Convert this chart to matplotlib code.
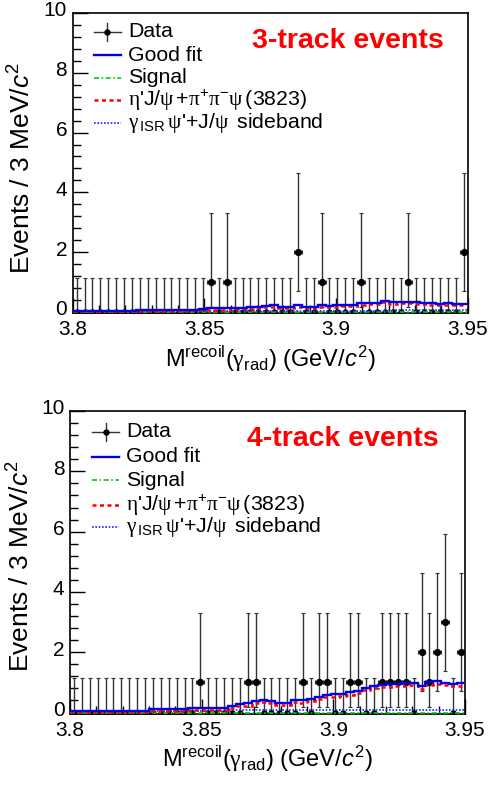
import numpy as np
import matplotlib
matplotlib.use("Agg")
import matplotlib.pyplot as plt
from matplotlib.lines import Line2D
from matplotlib.ticker import MultipleLocator, FixedLocator
from matplotlib.transforms import ScaledTranslation

plt.rcParams['font.family'] = ['Liberation Sans', 'DejaVu Sans']
plt.rcParams['mathtext.fontset'] = 'custom'
plt.rcParams['mathtext.rm'] = 'Liberation Sans'
plt.rcParams['mathtext.it'] = 'Liberation Sans:italic'
plt.rcParams['mathtext.sf'] = 'Liberation Serif'

# ---- binning: 3 MeV bins from 3.80 to 3.95 GeV ----
x_lo, x_hi, n_bins = 3.80, 3.95, 50

# ---- observed counts per bin ----
counts_3trk = [0, 0, 0, 0, 0, 0, 0, 0, 0, 0,
               0, 0, 0, 0, 0, 0, 0, 1, 0, 1,
               0, 0, 0, 0, 0, 0, 0, 0, 2, 0,
               0, 1, 0, 0, 0, 0, 1, 0, 0, 0,
               0, 0, 1, 0, 0, 0, 0, 0, 0, 2]
counts_4trk = [0, 0, 0, 0, 0, 0, 0, 0, 0, 0,
               0, 0, 0, 0, 0, 0, 1, 0, 0, 0,
               0, 0, 1, 1, 0, 0, 0, 0, 0, 1,
               0, 1, 1, 0, 0, 1, 1, 0, 0, 1,
               1, 1, 1, 0, 2, 1, 2, 3, 0, 2]

# ---- fit components (events per bin) ----
fit_3trk = [0.04, 0.04, 0.04, 0.04, 0.04, 0.04, 0.04, 0.04, 0.05, 0.05,
            0.06, 0.06, 0.06, 0.07, 0.07, 0.08, 0.09, 0.12, 0.12, 0.12,
            0.13, 0.14, 0.15, 0.16, 0.21, 0.22, 0.18, 0.18, 0.22, 0.17,
            0.17, 0.22, 0.21, 0.22, 0.24, 0.25, 0.29, 0.30, 0.30, 0.37,
            0.32, 0.33, 0.33, 0.32, 0.30, 0.29, 0.28, 0.29, 0.28, 0.27]
bkg_3trk = [0.01, 0.01, 0.01, 0.01, 0.01, 0.01, 0.01, 0.01, 0.02, 0.02,
            0.03, 0.03, 0.03, 0.04, 0.04, 0.05, 0.06, 0.08, 0.08, 0.08,
            0.09, 0.10, 0.11, 0.12, 0.17, 0.18, 0.14, 0.14, 0.18, 0.13,
            0.13, 0.18, 0.17, 0.18, 0.20, 0.21, 0.25, 0.26, 0.26, 0.33,
            0.28, 0.29, 0.29, 0.28, 0.26, 0.25, 0.24, 0.25, 0.24, 0.23]
sb_3trk = [0.03, 0.03, 0.03, 0.03, 0.03, 0.03, 0.03, 0.03, 0.03, 0.03,
           0.03, 0.03, 0.03, 0.03, 0.03, 0.03, 0.03, 0.04, 0.04, 0.04,
           0.04, 0.04, 0.04, 0.04, 0.04, 0.04, 0.04, 0.04, 0.04, 0.04,
           0.04, 0.04, 0.04, 0.04, 0.04, 0.04, 0.04, 0.04, 0.04, 0.04,
           0.05, 0.05, 0.05, 0.05, 0.05, 0.05, 0.05, 0.05, 0.05, 0.05]
sig_3trk = [0.0] * 50

fit_4trk = [0.05, 0.05, 0.05, 0.05, 0.05, 0.05, 0.05, 0.05, 0.05, 0.06,
            0.10, 0.10, 0.10, 0.10, 0.10, 0.15, 0.15, 0.15, 0.15, 0.15,
            0.22, 0.29, 0.30, 0.38, 0.43, 0.38, 0.33, 0.33, 0.43, 0.41,
            0.46, 0.52, 0.58, 0.60, 0.63, 0.67, 0.72, 0.82, 0.88, 0.92,
            0.93, 0.96, 0.97, 0.98, 0.87, 1.00, 1.03, 0.99, 0.96, 0.97]
bkg_4trk = [0.00, 0.00, 0.00, 0.00, 0.00, 0.00, 0.00, 0.00, 0.00, 0.01,
            0.04, 0.04, 0.04, 0.04, 0.04, 0.09, 0.09, 0.09, 0.09, 0.09,
            0.15, 0.21, 0.23, 0.30, 0.35, 0.31, 0.26, 0.26, 0.35, 0.33,
            0.38, 0.44, 0.50, 0.52, 0.55, 0.59, 0.64, 0.74, 0.80, 0.84,
            0.85, 0.88, 0.89, 0.90, 0.79, 0.92, 0.95, 0.91, 0.88, 0.89]
sb_4trk = [0.05, 0.05, 0.05, 0.05, 0.05, 0.05, 0.05, 0.05, 0.05, 0.05,
           0.06, 0.06, 0.06, 0.06, 0.06, 0.06, 0.06, 0.06, 0.06, 0.06,
           0.07, 0.07, 0.07, 0.07, 0.07, 0.07, 0.07, 0.07, 0.07, 0.07,
           0.07, 0.07, 0.07, 0.07, 0.07, 0.07, 0.07, 0.07, 0.07, 0.07,
           0.08, 0.08, 0.08, 0.08, 0.08, 0.08, 0.08, 0.08, 0.08, 0.08]
sig_4trk = [0.0] * 50

# 68% CL Poisson intervals (lower, upper) for n = 0..3
poisson_lo = [0.0, 0.827, 1.292, 1.633]
poisson_hi = [1.148, 2.299, 2.637, 2.918]

x_ticks = [3.80, 3.85, 3.90, 3.95]
x_ticklabels = ["3.8", "3.85", "3.9", "3.95"]

legend_labels = [
    "Data",
    "Good fit",
    "Signal",
    r"$\mathsf{\eta}$'J/$\mathsf{\psi}\,$+$\mathsf{\pi}^{+}\mathsf{\pi}^{-}\mathsf{\psi}\,$(3823)",
    r"$\mathsf{\gamma}_{\,\rm ISR}\,\mathsf{\psi}$'+J/$\mathsf{\psi}\,$ sideband",
]

# curve styles: fit, signal, peaking background, sideband
C_FIT = dict(color='#0000ee', lw=1.7, ls='-')
C_SIG = dict(color='#00cc00', lw=1.2, ls=(0, (3, 1.5, 1, 1.5)))
C_BKG = dict(color='#ff0000', lw=1.8, ls=(0, (1.6, 1.4)))
C_SB = dict(color='#2222ff', lw=1.2, ls=(0, (1, 1)))
ECOL = '#333333'

edges = np.linspace(x_lo, x_hi, n_bins + 1)
centers = 0.5 * (edges[:-1] + edges[1:])
half_w = 0.5 * (edges[1] - edges[0])

fig = plt.figure(figsize=(4.89, 7.93), dpi=100)
ax_top = fig.add_axes([0.1487, 0.6047, 0.8078, 0.379])
ax_bot = fig.add_axes([0.1431, 0.0996, 0.8078, 0.382])


def draw_legend(ax, x0, x1, xt, ys):
    tr = ax.transAxes
    # data entry: cross with a dot
    ax.add_line(Line2D([x0, x1], [ys[0], ys[0]], transform=tr,
                       color=ECOL, lw=1.0))
    dy = 0.03
    ax.add_line(Line2D([0.5 * (x0 + x1)] * 2, [ys[0] - dy, ys[0] + dy],
                       transform=tr, color=ECOL, lw=1.0))
    ax.add_line(Line2D([0.5 * (x0 + x1)], [ys[0]], transform=tr,
                       marker='o', ms=3.6, color='black', ls='none'))
    for sty, y in zip([C_FIT, C_SIG, C_BKG, C_SB], ys[1:]):
        ax.add_line(Line2D([x0, x1], [y, y], transform=tr, **sty))
    for lab, y in zip(legend_labels, ys):
        ax.text(xt, y, lab, transform=tr, fontsize=15.3, va='center',
                ha='left')


def draw_panel(ax, counts, fit, bkg, sb, sig, title, leg_x, leg_y, title_xy):
    counts = np.asarray(counts)
    lo = np.array([poisson_lo[c] for c in counts])
    hi = np.array([poisson_hi[c] for c in counts])
    nz = counts > 0
    # zero-count bins: vertical bars only
    ax.errorbar(centers[~nz], counts[~nz], yerr=[lo[~nz], hi[~nz]],
                fmt='o', color='black', ecolor=ECOL, ms=3.6, elinewidth=1.0,
                capsize=1.3, capthick=0.8, zorder=3)
    ax.errorbar(centers[nz], counts[nz], yerr=[lo[nz], hi[nz]],
                xerr=half_w, fmt='o', color='black', ecolor=ECOL, ms=4.2,
                elinewidth=1.0, capsize=1.3, capthick=0.8, zorder=3)

    ax.stairs(sig, edges, baseline=None, zorder=4, **C_SIG)
    ax.stairs(sb, edges, baseline=None, zorder=4, **C_SB)
    ax.stairs(bkg, edges, baseline=None, zorder=5, **C_BKG)
    ax.stairs(fit, edges, baseline=None, zorder=6, **C_FIT)

    ax.set_xlim(x_lo, x_hi)
    ax.set_ylim(-0.05, 10)
    ax.xaxis.set_major_locator(FixedLocator(x_ticks))
    ax.set_xticklabels(x_ticklabels)
    ax.xaxis.set_minor_locator(MultipleLocator(0.01))
    ax.yaxis.set_major_locator(MultipleLocator(2))
    ax.yaxis.set_minor_locator(MultipleLocator(0.4))
    ax.tick_params(which='both', direction='in', top=False, right=False,
                   labelsize=15)
    ax.tick_params(axis='x', pad=5)
    ax.tick_params(axis='y', pad=4)
    ax.tick_params(which='major', length=11, width=1.0)
    ax.tick_params(which='minor', length=6, width=1.0)
    for s in ax.spines.values():
        s.set_linewidth(1.2)
    # lift the y tick labels slightly above their ticks
    for lbl in ax.get_yticklabels():
        lbl.set_transform(lbl.get_transform() +
                          ScaledTranslation(0, 3.0 / 72, fig.dpi_scale_trans))

    ax.set_xlabel(r"M$^{\rm recoil}$($\mathsf{\gamma}_{\rm rad}$) (GeV/$c^{2}$)",
                  fontsize=17, labelpad=3)
    ax.set_ylabel(r"Events / 3 MeV/$c^{2}$", fontsize=19)

    ax.text(title_xy[0], title_xy[1], title, transform=ax.transAxes,
            color='#ff0000', fontsize=20.5, fontweight='bold',
            va='center', ha='left')

    draw_legend(ax, leg_x[0], leg_x[1], leg_x[2], leg_y)


draw_panel(ax_top, counts_3trk, fit_3trk, bkg_3trk, sb_3trk, sig_3trk,
           "3-track events", (0.054, 0.122, 0.141),
           [0.937, 0.860, 0.784, 0.710, 0.634], (0.455, 0.908))
draw_panel(ax_bot, counts_4trk, fit_4trk, bkg_4trk, sb_4trk, sig_4trk,
           "4-track events", (0.056, 0.124, 0.142),
           [0.932, 0.849, 0.772, 0.690, 0.617], (0.449, 0.908))

ax_top.yaxis.set_label_coords(-0.095, 0.483)
ax_bot.yaxis.set_label_coords(-0.089, 0.487)

fig.savefig("out.png", dpi=100)
